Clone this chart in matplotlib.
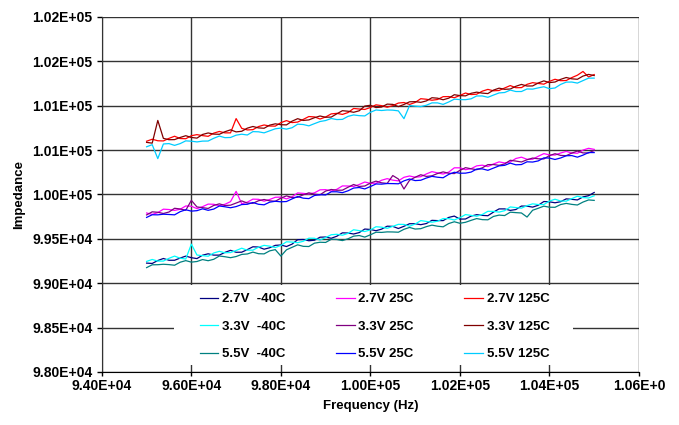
import matplotlib
matplotlib.use("Agg")
import matplotlib.pyplot as plt
from matplotlib.ticker import FixedLocator
from matplotlib.patches import Rectangle

plt.rcParams['font.family'] = ['Liberation Sans', 'DejaVu Sans']
plt.rcParams['font.weight'] = 'bold'

# frequency sweep (Hz)
freq = [95000, 95125, 95250, 95375, 95500, 95625, 95750, 95875, 96000, 96125,
        96250, 96375, 96500, 96625, 96750, 96875, 97000, 97125, 97250, 97375,
        97500, 97625, 97750, 97875, 98000, 98125, 98250, 98375, 98500, 98625,
        98750, 98875, 99000, 99125, 99250, 99375, 99500, 99625, 99750, 99875,
        100000, 100125, 100250, 100375, 100500, 100625, 100750, 100875, 101000, 101125,
        101250, 101375, 101500, 101625, 101750, 101875, 102000, 102125, 102250, 102375,
        102500, 102625, 102750, 102875, 103000, 103125, 103250, 103375, 103500, 103625,
        103750, 103875, 104000, 104125, 104250, 104375, 104500, 104625, 104750, 104875,
        105000]

# impedance readings per supply voltage / temperature
z_27_m40 = [99226, 99222, 99255, 99278, 99258, 99258, 99283, 99305, 99287, 99277,
            99315, 99331, 99316, 99316, 99347, 99370, 99348, 99349, 99378, 99410,
            99407, 99383, 99399, 99426, 99430, 99413, 99440, 99490, 99492, 99478,
            99484, 99518, 99520, 99506, 99529, 99567, 99565, 99554, 99570, 99610,
            99605, 99591, 99609, 99642, 99640, 99616, 99641, 99670, 99670, 99659,
            99672, 99708, 99705, 99705, 99741, 99756, 99722, 99723, 99756, 99772,
            99764, 99760, 99801, 99837, 99837, 99820, 99830, 99869, 99868, 99857,
            99878, 99920, 99917, 99906, 99918, 99950, 99945, 99938, 99972, 99986,
            100022]
z_27_25 = [99791, 99775, 99795, 99834, 99830, 99820, 99833, 99870, 99867, 99840,
           99862, 99891, 99889, 99873, 99889, 99919, 100035, 99895, 99913, 99947,
           99945, 99924, 99943, 99968, 99970, 99950, 99974, 100017, 100012, 100005,
           100018, 100052, 100054, 100038, 100058, 100096, 100095, 100090, 100112, 100140,
           100125, 100126, 100160, 100178, 100161, 100153, 100193, 100208, 100194, 100200,
           100231, 100257, 100243, 100230, 100252, 100300, 100300, 100279, 100290, 100322,
           100330, 100314, 100343, 100367, 100355, 100366, 100405, 100420, 100396, 100397,
           100430, 100460, 100446, 100444, 100467, 100485, 100467, 100464, 100500, 100520,
           100508]
z_27_125 = [100600, 100622, 100605, 100603, 100632, 100656, 100630, 100628, 100662, 100674,
            100663, 100655, 100691, 100710, 100694, 100694, 100855, 100745, 100727, 100730,
            100765, 100783, 100771, 100770, 100809, 100832, 100810, 100816, 100846, 100878,
            100874, 100850, 100873, 100908, 100914, 100902, 100923, 100969, 100963, 100958,
            100980, 101010, 101001, 100983, 101001, 101030, 101036, 101014, 101037, 101079,
            101073, 101062, 101070, 101102, 101103, 101090, 101116, 101143, 101126, 101130,
            101164, 101184, 101168, 101172, 101200, 101227, 101203, 101204, 101241, 101260,
            101251, 101243, 101275, 101298, 101282, 101284, 101317, 101344, 101386, 101324,
            101351]
z_33_m40 = [99245, 99267, 99249, 99249, 99280, 99305, 99281, 99272, 99440, 99317,
            99310, 99303, 99340, 99359, 99342, 99345, 99368, 99394, 99372, 99372,
            99405, 99426, 99417, 99401, 99425, 99466, 99463, 99456, 99472, 99507,
            99506, 99486, 99514, 99546, 99551, 99540, 99561, 99602, 99592, 99582,
            99600, 99636, 99631, 99618, 99640, 99663, 99662, 99642, 99666, 99705,
            99696, 99687, 99698, 99728, 99727, 99712, 99738, 99773, 99764, 99754,
            99774, 99810, 99809, 99801, 99817, 99859, 99852, 99845, 99874, 99894,
            99886, 99886, 99925, 99946, 99926, 99924, 99953, 99980, 99964, 99960,
            99985]
z_33_25 = [99769, 99804, 99799, 99785, 99802, 99844, 99836, 99822, 99933, 99859,
           99851, 99842, 99876, 99894, 99875, 99879, 99903, 99927, 99903, 99900,
           99929, 99943, 99928, 99923, 99958, 99984, 99965, 99968, 99996, 100018,
           100003, 99996, 100038, 100056, 100047, 100048, 100081, 100112, 100090, 100095,
           100128, 100150, 100131, 100124, 100213, 100174, 100061, 100160, 100194, 100222,
           100203, 100210, 100236, 100254, 100239, 100235, 100271, 100302, 100289, 100279,
           100300, 100336, 100337, 100328, 100344, 100385, 100376, 100366, 100391, 100410,
           100402, 100400, 100438, 100459, 100440, 100437, 100466, 100489, 100468, 100468,
           100496]
z_33_125 = [100587, 100578, 100834, 100632, 100617, 100618, 100642, 100662, 100642, 100635,
            100676, 100693, 100680, 100678, 100707, 100728, 100705, 100712, 100747, 100766,
            100750, 100746, 100781, 100796, 100786, 100784, 100826, 100854, 100834, 100840,
            100865, 100884, 100870, 100872, 100909, 100944, 100938, 100926, 100943, 100996,
            101005, 100979, 100985, 101018, 101015, 100990, 101014, 101044, 101046, 101038,
            101054, 101090, 101085, 101067, 101085, 101124, 101114, 101111, 101140, 101153,
            101142, 101137, 101176, 101198, 101185, 101188, 101219, 101240, 101222, 101223,
            101256, 101280, 101261, 101267, 101297, 101318, 101303, 101298, 101334, 101353,
            101340]
z_55_m40 = [99175, 99207, 99208, 99213, 99209, 99202, 99236, 99254, 99237, 99244,
            99266, 99253, 99269, 99306, 99298, 99287, 99300, 99324, 99329, 99350,
            99332, 99330, 99364, 99378, 99305, 99376, 99404, 99432, 99415, 99413,
            99451, 99461, 99459, 99494, 99492, 99480, 99500, 99530, 99537, 99519,
            99545, 99574, 99572, 99578, 99577, 99574, 99607, 99628, 99610, 99614,
            99637, 99654, 99642, 99635, 99672, 99692, 99675, 99686, 99708, 99728,
            99716, 99714, 99752, 99767, 99762, 99800, 99795, 99791, 99745, 99822,
            99844, 99868, 99856, 99855, 99886, 99899, 99888, 99881, 99914, 99938,
            99933]
z_55_25 = [99741, 99771, 99770, 99777, 99774, 99770, 99806, 99827, 99812, 99817,
           99838, 99821, 99835, 99870, 99861, 99850, 99863, 99886, 99889, 99909,
           99889, 99883, 99913, 99923, 99917, 99920, 99950, 99976, 99958, 99953,
           99988, 99997, 99994, 100030, 100030, 100020, 100041, 100072, 100078, 100062,
           100089, 100118, 100116, 100123, 100122, 100120, 100153, 100174, 100156, 100160,
           100185, 100204, 100194, 100188, 100226, 100250, 100239, 100240, 100252, 100286,
           100288, 100272, 100297, 100322, 100328, 100353, 100334, 100337, 100368, 100365,
           100378, 100412, 100410, 100394, 100411, 100436, 100438, 100420, 100443, 100472,
           100472]
z_55_125 = [100537, 100561, 100404, 100569, 100573, 100553, 100573, 100604, 100600, 100592,
            100601, 100602, 100633, 100658, 100640, 100642, 100668, 100679, 100670, 100708,
            100706, 100694, 100717, 100740, 100748, 100736, 100752, 100792, 100788, 100773,
            100798, 100822, 100833, 100856, 100844, 100846, 100880, 100896, 100888, 100885,
            100926, 100952, 100946, 100952, 100950, 100942, 100854, 101002, 100995, 100990,
            101005, 101032, 101032, 101015, 101042, 101074, 101069, 101068, 101078, 101110,
            101110, 101095, 101120, 101144, 101149, 101176, 101160, 101160, 101189, 101187,
            101201, 101214, 101192, 101200, 101240, 101266, 101267, 101255, 101283, 101311,
            101311]

series = [
    ("2.7V  -40C", z_27_m40, "#000080"),
    ("2.7V 25C", z_27_25, "#FF00FF"),
    ("2.7V 125C", z_27_125, "#FF0000"),
    ("3.3V  -40C", z_33_m40, "#00FFFF"),
    ("3.3V 25C", z_33_25, "#800080"),
    ("3.3V 125C", z_33_125, "#800000"),
    ("5.5V  -40C", z_55_m40, "#008080"),
    ("5.5V 25C", z_55_25, "#0000FF"),
    ("5.5V 125C", z_55_125, "#00CCFF"),
]

x_ticks = [94000, 96000, 98000, 100000, 102000, 104000, 106000]
x_labels = ["9.40E+04", "9.60E+04", "9.80E+04", "1.00E+05", "1.02E+05", "1.04E+05", "1.06E+0"]
y_ticks = [98000, 98500, 99000, 99500, 100000, 100500, 101000, 101500, 102000]
y_labels = ["9.80E+04", "9.85E+04", "9.90E+04", "9.95E+04", "1.00E+05",
            "1.01E+05", "1.01E+05", "1.02E+05", "1.02E+05"]

fig = plt.figure(figsize=(6.79, 4.25), dpi=100)
ax = fig.add_axes([0.150, 0.125, 0.791, 0.835])

handles = {}
for label, vals, color in series:
    line, = ax.plot(freq, vals, color=color, lw=0.9, label=label)
    handles[label] = line

ax.set_xlim(94000, 106000)
ax.set_ylim(98000, 102000)
ax.xaxis.set_major_locator(FixedLocator(x_ticks))
ax.set_xticklabels(x_labels)
ax.yaxis.set_major_locator(FixedLocator(y_ticks))
ax.set_yticklabels(y_labels)
ax.tick_params(axis='both', labelsize=10, direction='out', width=1, color='black')
ax.tick_params(axis='x', length=3, pad=2)
ax.tick_params(axis='y', length=3.6, pad=3)

ax.grid(True, color='#333333', lw=1.0)
ax.set_axisbelow(True)
for side in ['top', 'right']:
    ax.spines[side].set_visible(False)
ax.spines['left'].set_color('#333333')
ax.spines['bottom'].set_color('black')

ax.set_xlabel("Frequency (Hz)", fontsize=9.5, fontweight='bold', labelpad=5)
ax.set_ylabel("Impedance", fontsize=9.5, fontweight='bold', labelpad=5)

# white legend area hiding the grid
ax.add_patch(Rectangle((0.134, 0.02), 0.743, 0.225, transform=ax.transAxes,
                       facecolor='white', edgecolor='none', zorder=1.5))

# legend in Excel row order: fill column-wise
order = ["2.7V  -40C", "3.3V  -40C", "5.5V  -40C",
         "2.7V 25C", "3.3V 25C", "5.5V 25C",
         "2.7V 125C", "3.3V 125C", "5.5V 125C"]
leg = ax.legend([handles[k] for k in order], order, ncol=3, loc='upper left',
                bbox_to_anchor=(0.1825, 0.222), borderaxespad=0, borderpad=0,
                frameon=False, handlelength=1.4, handletextpad=0.3,
                labelspacing=1.15, columnspacing=3.8,
                prop={'weight': 'bold', 'size': 9.5})
leg.set_zorder(5)

fig.savefig("out.png", dpi=100)
